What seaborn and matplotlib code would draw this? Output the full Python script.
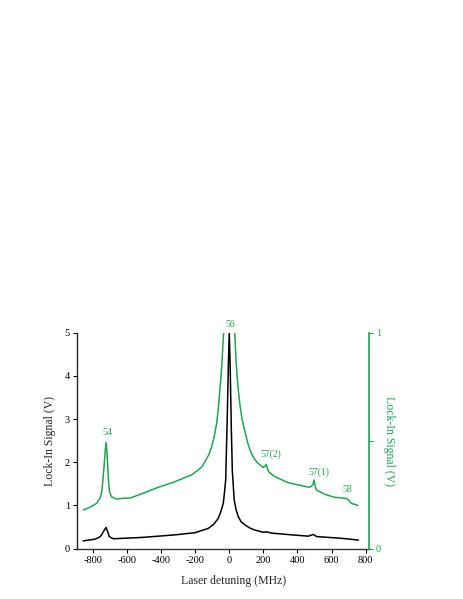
import numpy as np
import pandas as pd
import seaborn as sns
import matplotlib
matplotlib.use("Agg")
import matplotlib.pyplot as plt

# black trace (left axis, V)
det_black = [-857, -788, -760, -749, -735, -723, -712, -704, -681, -514, -319, -201, -123, -90, -65, -50, -35,
             -28, -21, -12, -5, 0, 5, 12, 18, 29, 40, 53, 70, 92, 120, 151, 200, 219, 249, 366, 464, 493, 513, 660, 758]
sig_black = [0.18, 0.22, 0.27, 0.32, 0.42, 0.49, 0.38, 0.28, 0.23, 0.26, 0.32, 0.37, 0.47, 0.57, 0.70, 0.85, 1.05,
             1.30, 1.59, 3.0, 4.3, 5.0, 4.3, 2.8, 1.8, 1.13, 0.90, 0.74, 0.62, 0.55, 0.48, 0.43, 0.38, 0.39, 0.36, 0.32, 0.29, 0.33, 0.28, 0.24, 0.20]

# green trace (right axis, V)
det_green = [-857, -817, -778, -759, -750, -745, -740, -733, -728, -723, -718, -714, -709, -704, -697, -690,
             -661, -612, -583, -514, -417, -319, -221, -182, -160, -143, -120, -103, -88, -74, -64, -55, -48,
             -41, -33, -20, 0, 20, 32, 36, 41, 50, 61, 75, 90, 108, 129, 148, 168, 198, 210, 217, 224, 231,
             266, 344, 423, 472, 490, 497, 503, 511, 560, 618, 667, 689, 700, 716, 755]
sig_green = [0.179, 0.192, 0.210, 0.234, 0.255, 0.288, 0.330, 0.396, 0.450, 0.492, 0.450, 0.396, 0.320, 0.272, 0.250, 0.240,
             0.230, 0.234, 0.234, 0.254, 0.284, 0.310, 0.342, 0.364, 0.380, 0.402, 0.435, 0.472, 0.520, 0.580, 0.650, 0.734, 0.800,
             0.888, 1.004, 1.4, 1.8, 1.4, 1.004, 0.930, 0.858, 0.760, 0.674, 0.600, 0.550, 0.490, 0.442, 0.415, 0.396, 0.376, 0.382, 0.390, 0.372, 0.356,
             0.334, 0.306, 0.292, 0.284, 0.295, 0.318, 0.295, 0.272, 0.252, 0.238, 0.234, 0.232, 0.225, 0.210, 0.200]

# peak labels
peak_names = ["54", "56", "57(2)", "57(1)", "58"]
peak_x = [-716, 4, 245, 528, 695]
peak_y = [0.540, 1.04, 0.438, 0.352, 0.275]

green = "#1ea650"

sns.set_theme(style="ticks")
plt.rcParams['font.family'] = ['Liberation Serif', 'DejaVu Serif']
plt.rcParams['axes.unicode_minus'] = False

fig = plt.figure(figsize=(4.63, 5.99), dpi=100)
ax = fig.add_axes([0.1657, 0.084, 0.6313, 0.3606])
ax2 = ax.twinx()

df_b = pd.DataFrame({"det": det_black, "sig": sig_black})
df_g = pd.DataFrame({"det": det_green, "sig": sig_green})
sns.lineplot(data=df_b, x="det", y="sig", ax=ax, color="black", lw=1.1, estimator=None)
sns.lineplot(data=df_g, x="det", y="sig", ax=ax2, color=green, lw=1.1, estimator=None)

ax.set_xlim(-895, 820)
ax.set_ylim(0, 5)
ax2.set_ylim(0, 1)
ax.set_xticks(np.arange(-800, 801, 200))
ax.set_yticks(range(6))
ax2.set_yticks([0, 0.5, 1])
ax2.set_yticklabels(["0", "", "1"])

for s in ["top", "right"]:
    ax.spines[s].set_visible(False)
for s in ["top", "left", "bottom"]:
    ax2.spines[s].set_visible(False)
ax.spines["left"].set_linewidth(1.0)
ax.spines["bottom"].set_linewidth(1.0)
ax.spines["bottom"].set_color("#333333")
ax2.spines["right"].set_color(green)
ax2.spines["right"].set_linewidth(1.2)

ax.tick_params(axis="both", labelsize=7.5, length=3, width=0.8, pad=2, colors="black")
ax2.tick_params(axis="y", labelsize=7.5, length=3, width=0.8, pad=2, colors=green)

ax.set_xlabel("Laser detuning (MHz)", fontsize=8.5)
ax.xaxis.set_label_coords(0.537, -0.12)
ax.set_ylabel("Lock-In Signal (V)", fontsize=8.5, labelpad=6)
ax2.set_ylabel("Lock-In Signal (V)", fontsize=8.5, color=green, rotation=270, labelpad=10)

for name, x, y in zip(peak_names, peak_x, peak_y):
    ax2.text(x, y, name, color=green, fontsize=7, ha="center", va="center", clip_on=False)

fig.savefig("out.png", dpi=100)
